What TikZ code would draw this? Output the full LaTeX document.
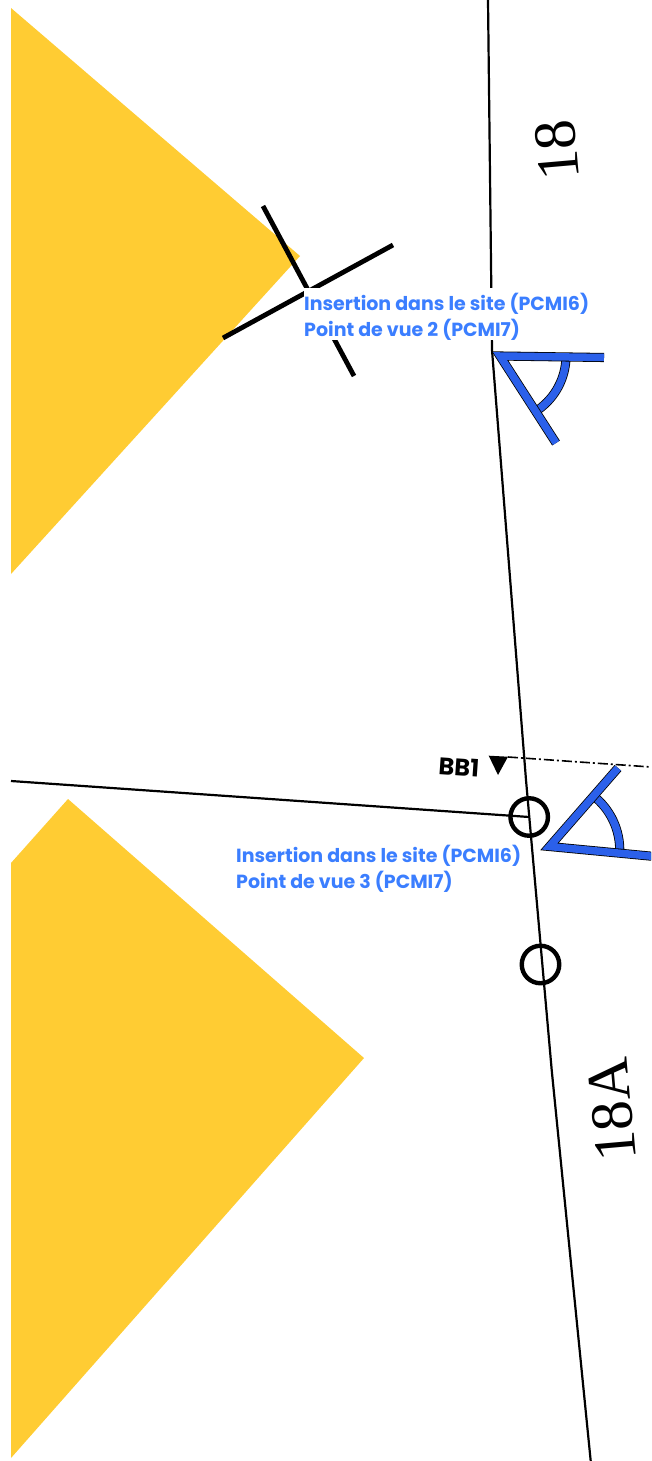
\documentclass[tikz,border=0pt]{standalone}
\usepackage{fontspec}
\setmainfont{Poppins}
\newfontfamily\numfont{Liberation Serif}
\definecolor{zoneyellow}{HTML}{FFCC33}
\definecolor{labelblue}{HTML}{3B7EFF}
\definecolor{sightblue}{HTML}{2B60EA}

\begin{document}
\begin{tikzpicture}[x=1pt,y=-1pt,
                    zone/.style={fill=zoneyellow,draw=none},
                    road/.style={draw=black,line width=2.2pt},
                    cross/.style={draw=black,line width=4.8pt},
                    ring/.style={circle,draw=black,line width=4.4pt,minimum size=37.5pt,inner sep=0pt},
                    sight/.style={draw=black,line width=.8pt,double=sightblue,double distance=7.5pt},
                    viewlabel/.style={fill=white,text=labelblue,align=left,anchor=north west,inner sep=0pt,
                                      font=\fontsize{19}{26}\selectfont\bfseries},
                    roadnum/.style={rotate=95,font=\fontsize{60}{60}\numfont},]
    \useasboundingbox (0,0) rectangle (651,1461);
    \clip (0,0) rectangle (651,1461);

    \fill[zone] (11,8) -- (300,256) -- (11,574) -- cycle;
    \fill[zone] (11,863) -- (68,799) -- (364,1058) -- (11,1458) -- cycle;

    \coordinate (roadtop) at (488,0);
    \coordinate (roadbend) at (492,350);
    \coordinate (roadmid) at (526,780);
    \coordinate (roadlow) at (551.7,1070);
    \coordinate (roadend) at (590.7,1461);
    \draw[road] (roadtop) -- (roadbend) -- (roadmid) -- (roadlow) -- (roadend);

    \coordinate (crossAa) at (263,206);
    \coordinate (crossAb) at (354,376);
    \coordinate (crossBa) at (393,245);
    \coordinate (crossBb) at (223,338);
    \draw[cross] (crossAa) -- (crossAb);
    \draw[cross] (crossBa) -- (crossBb);

    \node[viewlabel] (labeltwo) at (304,288) {\rule{0pt}{22pt}Insertion dans le site (PCMI6)\\Point de vue 2 (PCMI7)};

    \coordinate (eyeAb) at (604,357.5);
    \coordinate (eyeAa) at (500,356);
    \coordinate (eyeAc) at (556,443);
    \coordinate (eyeAd) at (566,357);
    \draw[sight] (eyeAd) arc[start angle=1,end angle=54.6,radius=66];
    \draw[sight] (eyeAb) -- (eyeAa) -- (eyeAc);

    \node[ring] (ringA) at (529.2,817) {};
    \node[ring] (ringB) at (540.5,964.5) {};
    \coordinate (sidewest) at (11,781);
    \draw[road] (sidewest) -- (ringA.center);

    \coordinate (bbstart) at (508,757);
    \coordinate (bbend) at (651,767);
    \draw[black,line width=1.6pt,dash pattern=on 10pt off 3pt on 2pt off 3pt] (bbstart) -- (bbend);
    \fill[black] (488.7,755.7) -- (508,756.7) -- (498,775) -- cycle;
    \node[rotate=-4,font=\fontsize{24}{24}\selectfont\bfseries] (bbone) at (459,767) {BB1};

    \coordinate (eyeBb) at (660,857);
    \coordinate (eyeBa) at (549.5,846.5);
    \coordinate (eyeBc) at (618,768);
    \coordinate (eyeBd) at (596,798);
    \draw[sight] (eyeBd) arc[start angle=-49,end angle=5,radius=69];
    \draw[sight] (eyeBb) -- (eyeBa) -- (eyeBc);

    \node[viewlabel,fill=none] (labelthree) at (236,845) {Insertion dans le site (PCMI6)\\Point de vue 3 (PCMI7)};

    \node[roadnum] (numone) at (557,150) {18};
    \node[roadnum] (numtwo) at (612,1110) {18A};
\end{tikzpicture}
\end{document}
